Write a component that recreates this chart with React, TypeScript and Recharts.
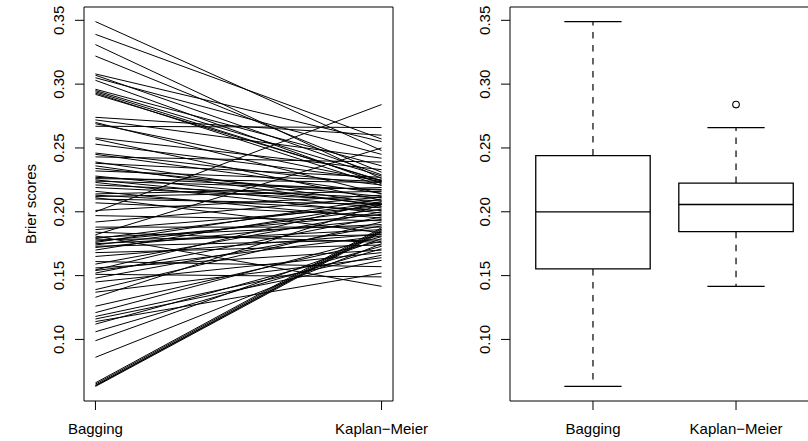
import React from "react";
import {
  LineChart,
  Line,
  ComposedChart,
  Scatter,
  XAxis,
  YAxis,
  ReferenceArea,
  ReferenceLine,
} from "recharts";

// methods compared
const methods = ["Bagging", "Kaplan\u2212Meier"];

// Brier scores per data set, same order in both arrays (one line per pair)
const bagging = [
  0.349, 0.339, 0.331, 0.322, 0.308, 0.307, 0.305, 0.303, 0.296, 0.295,
  0.294, 0.293, 0.292, 0.274, 0.272, 0.27, 0.269, 0.267, 0.258, 0.257,
  0.253, 0.246, 0.245, 0.243, 0.239, 0.238, 0.236, 0.234, 0.232, 0.228,
  0.227, 0.226, 0.225, 0.224, 0.223, 0.221, 0.219, 0.216, 0.214, 0.213,
  0.212, 0.211, 0.21, 0.207, 0.201, 0.2, 0.197, 0.192, 0.188, 0.186,
  0.184, 0.182, 0.181, 0.18, 0.179, 0.178, 0.177, 0.176, 0.175, 0.174,
  0.173, 0.172, 0.17, 0.168, 0.165, 0.161, 0.159, 0.156, 0.1545, 0.154,
  0.152, 0.151, 0.148, 0.145, 0.139, 0.137, 0.133, 0.126, 0.121, 0.118,
  0.116, 0.114, 0.112, 0.106, 0.099, 0.086, 0.066, 0.065, 0.064, 0.0638,
  0.0632,
];

const kaplanMeier = [
  0.248, 0.257, 0.226, 0.231, 0.255, 0.229, 0.245, 0.222, 0.236, 0.228,
  0.224, 0.2205, 0.2245, 0.26, 0.242, 0.214, 0.2235, 0.266, 0.233, 0.209,
  0.225, 0.221, 0.2145, 0.239, 0.2065, 0.227, 0.2045, 0.212, 0.2238, 0.2058,
  0.217, 0.223, 0.203, 0.2175, 0.199, 0.211, 0.2085, 0.195, 0.219, 0.201,
  0.216, 0.1835, 0.2059, 0.197, 0.213, 0.284, 0.193, 0.2115, 0.188, 0.204,
  0.176, 0.25, 0.1416, 0.19, 0.207, 0.182, 0.198, 0.21, 0.186, 0.202,
  0.178, 0.194, 0.206, 0.174, 0.1825, 0.157, 0.2, 0.17, 0.208, 0.181,
  0.196, 0.149, 0.189, 0.168, 0.192, 0.164, 0.2057, 0.177, 0.1805, 0.166,
  0.162, 0.152, 0.173, 0.171, 0.179, 0.175, 0.1875, 0.1865, 0.1855, 0.1848,
  0.184,
];

const yTicks = [0.1, 0.15, 0.2, 0.25, 0.3, 0.35];

const FONT = '"Liberation Sans", Arial, Helvetica, sans-serif';
const FS = 15;

// R style fivenum / boxplot.stats
function fivenum(values: number[]) {
  const x = [...values].sort((a, b) => a - b);
  const n = x.length;
  const n4 = Math.floor((n + 3) / 2) / 2;
  const d = [1, n4, (n + 1) / 2, n + 1 - n4, n];
  return d.map((i) => 0.5 * (x[Math.floor(i) - 1] + x[Math.ceil(i) - 1]));
}

function boxStats(values: number[]) {
  const [, q1, med, q3] = fivenum(values);
  const iqr = q3 - q1;
  const inside = values.filter((v) => v >= q1 - 1.5 * iqr && v <= q3 + 1.5 * iqr);
  const outliers = values.filter((v) => v < q1 - 1.5 * iqr || v > q3 + 1.5 * iqr);
  return { q1, med, q3, lo: Math.min(...inside), hi: Math.max(...inside), outliers };
}

const all = [...bagging, ...kaplanMeier];
const yMin = Math.min(...all);
const yMax = Math.max(...all);
const yPad = (yMax - yMin) * 0.04;
const yDomain: [number, number] = [yMin - yPad, yMax + yPad];

const pairData = [
  { x: 1, ...Object.fromEntries(bagging.map((v, i) => [`s${i}`, v])) },
  { x: 2, ...Object.fromEntries(kaplanMeier.map((v, i) => [`s${i}`, v])) },
];

const boxes = [bagging, kaplanMeier].map(boxStats);
const outlierPoints = boxes.flatMap((b, i) => b.outliers.map((v) => ({ x: i + 1, y: v })));

const YTick = (props: any) => {
  const cx = 59;
  const { y, payload } = props;
  return (
    <text
      x={cx}
      y={y}
      dy="0.35em"
      transform={`rotate(-90 ${cx} ${y})`}
      textAnchor="middle"
      fontFamily={FONT}
      fontSize={FS}
      fill="#000"
    >
      {payload.value.toFixed(2)}
    </text>
  );
};

const XTick = (props: any) => {
  const { x, payload } = props;
  return (
    <text x={x} y={434} textAnchor="middle" fontFamily={FONT} fontSize={FS} fill="#000">
      {methods[payload.value - 1]}
    </text>
  );
};

const axisProps = {
  axisLine: false,
  tickLine: { stroke: "#000" },
  tickSize: 9,
  interval: 0 as const,
};

const dash = "6.5 6.5";

export default function App() {
  return (
    <div
      style={{
        position: "absolute",
        left: 0,
        top: 0,
        width: 808,
        height: 441,
        overflow: "hidden",
        background: "#fff",
      }}
    >
      {/* slope chart */}
      <div style={{ position: "absolute", left: 0, top: 0 }}>
        <LineChart width={445} height={441} data={pairData} margin={{ top: 7, right: 52, bottom: 0, left: 0 }}>
          <XAxis
            dataKey="x"
            type="number"
            domain={[0.96, 2.04]}
            ticks={[1, 2]}
            allowDataOverflow
            height={40}
            tick={XTick}
            {...axisProps}
          />
          <YAxis
            type="number"
            domain={yDomain}
            ticks={yTicks}
            allowDataOverflow
            width={84}
            tick={YTick}
            {...axisProps}
          />
          <ReferenceArea
            x1={0.96}
            x2={2.04}
            y1={yDomain[0]}
            y2={yDomain[1]}
            fill="none"
            stroke="#000"
            strokeWidth={1}
          />
          {bagging.map((_, i) => (
            <Line
              key={i}
              type="linear"
              dataKey={`s${i}`}
              stroke="#000"
              strokeWidth={1}
              dot={false}
              activeDot={false}
              isAnimationActive={false}
            />
          ))}
        </LineChart>
      </div>

      <div
        style={{
          position: "absolute",
          left: 4,
          top: 204,
          width: 52,
          height: 0,
        }}
      >
        <div
          style={{
            position: "absolute",
            left: 26,
            top: 0,
            transform: "translate(-50%, -50%) rotate(-90deg)",
            fontFamily: FONT,
            fontSize: FS,
            whiteSpace: "nowrap",
            color: "#000",
          }}
        >
          Brier scores
        </div>
      </div>

      {/* boxplots */}
      <div style={{ position: "absolute", left: 426, top: 0 }}>
        <ComposedChart width={393} height={441} margin={{ top: 7, right: 0, bottom: 0, left: 0 }}>
          <XAxis
            dataKey="x"
            type="number"
            domain={[0.42, 2.58]}
            ticks={[1, 2]}
            allowDataOverflow
            height={40}
            tick={XTick}
            {...axisProps}
          />
          <YAxis
            dataKey="y"
            type="number"
            domain={yDomain}
            ticks={yTicks}
            allowDataOverflow
            width={84}
            tick={YTick}
            {...axisProps}
          />
          <ReferenceArea
            x1={0.42}
            x2={2.58}
            y1={yDomain[0]}
            y2={yDomain[1]}
            fill="none"
            stroke="#000"
            strokeWidth={1}
          />
          {boxes.map((b, i) => {
            const c = i + 1;
            return (
              <React.Fragment key={i}>
                <ReferenceLine
                  segment={[{ x: c, y: b.q3 }, { x: c, y: b.hi }]}
                  stroke="#000"
                  strokeWidth={1.2}
                  strokeDasharray={dash}
                />
                <ReferenceLine
                  segment={[{ x: c, y: b.q1 }, { x: c, y: b.lo }]}
                  stroke="#000"
                  strokeWidth={1.2}
                  strokeDasharray={dash}
                />
                <ReferenceLine
                  segment={[{ x: c - 0.2, y: b.hi }, { x: c + 0.2, y: b.hi }]}
                  stroke="#000"
                  strokeWidth={1.3}
                />
                <ReferenceLine
                  segment={[{ x: c - 0.2, y: b.lo }, { x: c + 0.2, y: b.lo }]}
                  stroke="#000"
                  strokeWidth={1.3}
                />
                <ReferenceArea
                  x1={c - 0.4}
                  x2={c + 0.4}
                  y1={b.q1}
                  y2={b.q3}
                  fill="#fff"
                  fillOpacity={1}
                  stroke="#000"
                  strokeWidth={1.3}
                />
                <ReferenceLine
                  segment={[{ x: c - 0.4, y: b.med }, { x: c + 0.4, y: b.med }]}
                  stroke="#000"
                  strokeWidth={1.3}
                />
              </React.Fragment>
            );
          })}
          <Scatter
            data={outlierPoints}
            dataKey="y"
            isAnimationActive={false}
            shape={(p: any) => (
              <circle cx={p.cx} cy={p.cy} r={3.3} fill="none" stroke="#000" strokeWidth={1.1} />
            )}
          />
        </ComposedChart>
      </div>
    </div>
  );
}
